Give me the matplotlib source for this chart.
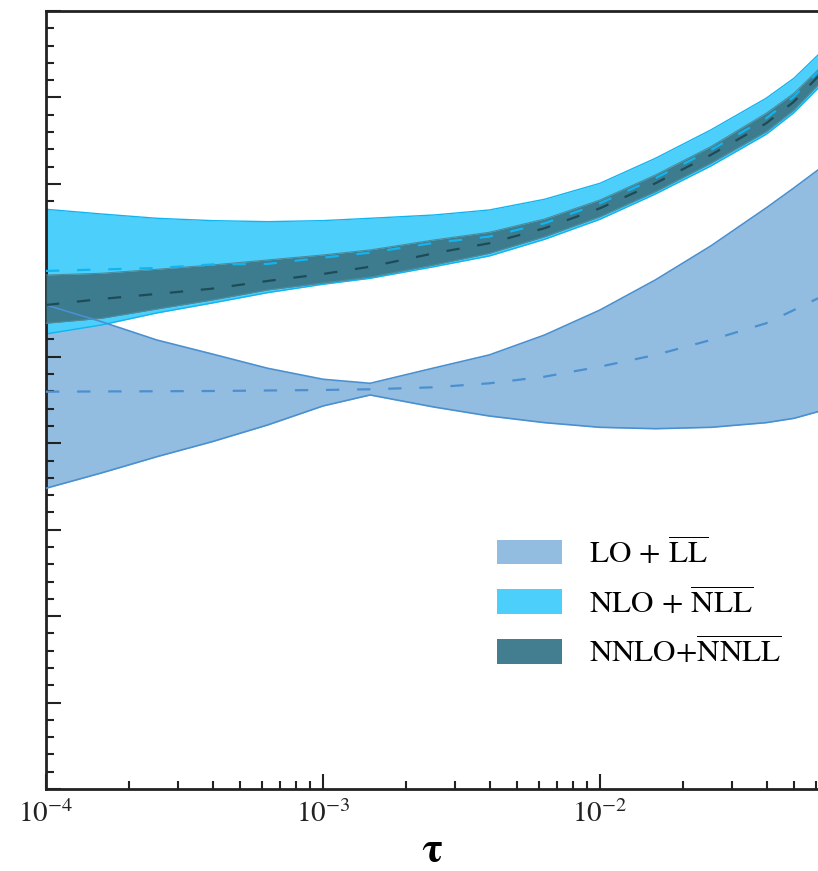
import numpy as np
import matplotlib
matplotlib.use("Agg")
import matplotlib.pyplot as plt
from matplotlib.ticker import MultipleLocator, LogLocator, NullFormatter

plt.rcParams['font.family'] = ['STIXGeneral', 'DejaVu Serif']
plt.rcParams['mathtext.fontset'] = 'stix'

# log10(tau) sample points
log_tau = [-4.0, -3.8, -3.6, -3.4, -3.2, -3.0, -2.83, -2.6, -2.4, -2.2,
           -2.0, -1.8, -1.6, -1.4, -1.3, -1.213]

lo_upper = [5.599, 5.406, 5.194, 5.032, 4.867, 4.740, 4.693, 4.870, 5.021, 5.252,
            5.541, 5.889, 6.282, 6.722, 6.953, 7.161]
lo_lower = [3.479, 3.656, 3.844, 4.018, 4.211, 4.431, 4.558, 4.419, 4.315, 4.238,
            4.184, 4.168, 4.184, 4.238, 4.288, 4.365]
lo_center = [4.596, 4.599, 4.601, 4.604, 4.610, 4.616, 4.624, 4.647, 4.693, 4.770,
             4.886, 5.021, 5.194, 5.388, 5.541, 5.677]

nlo_upper = [6.706, 6.652, 6.602, 6.575, 6.563, 6.575, 6.602, 6.640, 6.698, 6.822,
             7.007, 7.296, 7.624, 7.991, 8.222, 8.491]
nlo_lower = [5.264, 5.368, 5.507, 5.622, 5.742, 5.839, 5.908, 6.042, 6.166, 6.359,
             6.591, 6.883, 7.207, 7.574, 7.824, 8.106]
nlo_center = [5.993, 6.010, 6.027, 6.068, 6.074, 6.147, 6.204, 6.317, 6.390, 6.544,
              6.776, 7.065, 7.392, 7.759, 8.009, 8.298]

nnlo_upper = [5.946, 5.966, 6.012, 6.062, 6.120, 6.178, 6.236, 6.351, 6.440, 6.594,
              6.814, 7.103, 7.431, 7.817, 8.048, 8.318]
nnlo_lower = [5.388, 5.445, 5.553, 5.657, 5.773, 5.854, 5.923, 6.062, 6.197, 6.389,
              6.621, 6.910, 7.239, 7.604, 7.855, 8.144]
nnlo_center = [5.599, 5.669, 5.727, 5.788, 5.877, 5.958, 6.042, 6.197, 6.313, 6.487,
               6.718, 7.007, 7.335, 7.701, 7.951, 8.241]

labels = [r'LO$\,+\,\overline{\mathrm{LL}}$',
          r'NLO$\,+\,\overline{\mathrm{NLL}}$',
          r'NNLO+$\overline{\mathrm{NNLL}}$']

c_lo_fill, c_lo_line = '#93bde0', '#4a90d0'
c_nlo_fill, c_nlo_line = '#4dcffc', '#12b4f0'
c_nnlo_fill, c_nnlo_line = '#3c7a8b', '#1d4c58'

tau = 10.0 ** np.array(log_tau)

fig = plt.figure(figsize=(8.18, 8.71), dpi=100)
ax = fig.add_axes([46/818, 1-789/871, 1-46/818, (789-11)/871])

ax.fill_between(tau, lo_lower, lo_upper, color=c_lo_fill, lw=0, zorder=1, label=labels[0])
ax.fill_between(tau, nlo_lower, nlo_upper, color=c_nlo_fill, lw=0, zorder=2, label=labels[1])
ax.plot(tau, nlo_upper, color=c_nlo_line, lw=1.0, zorder=2.1)
ax.plot(tau, nlo_lower, color=c_nlo_line, lw=1.0, zorder=2.1)
ax.fill_between(tau, nnlo_lower, nnlo_upper, color=c_nnlo_fill, lw=0, alpha=0.97, zorder=3, label=labels[2])
ax.plot(tau, nnlo_upper, color='#4f8a9a', lw=0.8, zorder=3.1)
ax.plot(tau, nnlo_lower, color='#4f8a9a', lw=0.8, zorder=3.1)
ax.plot(tau, lo_upper, color=c_lo_line, lw=1.2, zorder=4)
ax.plot(tau, lo_lower, color=c_lo_line, lw=1.2, zorder=4)

dash = (0, (6, 8))
ax.plot(tau, lo_center, color=c_lo_line, lw=1.6, ls=dash, zorder=5)
ax.plot(tau, nlo_center, color=c_nlo_line, lw=1.6, ls=dash, zorder=5)
ax.plot(tau, nnlo_center, color=c_nnlo_line, lw=1.6, ls=dash, zorder=5)

ax.set_xscale('log')
ax.set_xlim(1e-4, 10 ** (-4 + 772/277))
ax.set_ylim(0, 9)

ax.yaxis.set_major_locator(MultipleLocator(1))
ax.yaxis.set_minor_locator(MultipleLocator(0.2))
ax.yaxis.set_major_formatter(NullFormatter())
ax.xaxis.set_major_locator(LogLocator(base=10, numticks=10))
ax.xaxis.set_minor_locator(LogLocator(base=10, subs=np.arange(2, 10), numticks=20))
ax.xaxis.set_minor_formatter(NullFormatter())

ax.tick_params(which='both', direction='in', width=1.5, colors='#222222')
ax.tick_params(which='major', length=10.5, labelsize=21, pad=8)
ax.tick_params(which='minor', length=6)
ax.tick_params(axis='y', which='both', left=True, right=False)
ax.tick_params(axis='x', which='both', bottom=True, top=False)

for s in ['left', 'bottom', 'top']:
    ax.spines[s].set_linewidth(2.0)
    ax.spines[s].set_color('#222222')
ax.spines['right'].set_visible(False)

ax.set_xlabel('τ', fontsize=31, fontweight='bold', labelpad=3)

leg = ax.legend(loc='upper left', bbox_to_anchor=(497/818, 1-537/871),
                bbox_transform=fig.transFigure, frameon=False,
                fontsize=22.4, handlelength=2.1, handleheight=0.85,
                handletextpad=0.85, labelspacing=0.55, borderpad=0, borderaxespad=0)

fig.savefig('out.png', dpi=100)
